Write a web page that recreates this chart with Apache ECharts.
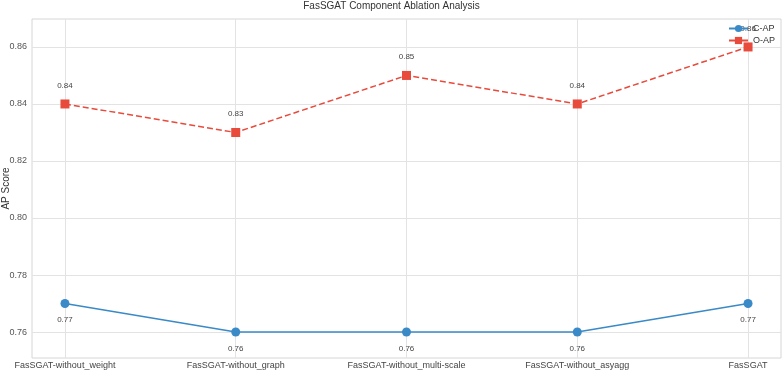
<!DOCTYPE html>
<html style="height: 100%">
<head>
    <meta charset="utf-8">
    <script type="text/javascript" src="https://cdn.jsdelivr.net/npm/echarts@6/dist/echarts.min.js"></script>
</head>
<body style="height: 100%; margin: 0">
<div id="container" style="height: 371px;width: 783px"></div>
<script type="text/javascript">
    var categories = ['FasSGAT-without_weight', 'FasSGAT-without_graph', 'FasSGAT-without_multi-scale', 'FasSGAT-without_asyagg', 'FasSGAT'];
    var cAP = [0.77, 0.76, 0.76, 0.76, 0.77];
    var oAP = [0.84, 0.83, 0.85, 0.84, 0.86];
    var yTicks = [0.76, 0.78, 0.80, 0.82, 0.84, 0.86];

    var dom = document.getElementById("container");
    var myChart = echarts.init(dom);
    var font = 'Liberation Sans';
    var idx = categories.map(function (c, i) { return i; });

    function pairs(values) {
        return values.map(function (v, i) { return [i, v]; });
    }

    var option = {
        animation: false,
        textStyle: {fontFamily: font},
        title: {
            text: 'FasSGAT Component Ablation Analysis',
            left: 'center',
            top: 1,
            padding: 0,
            textStyle: {fontSize: 10, fontWeight: 'normal', color: '#333', fontFamily: font}
        },
        legend: {
            orient: 'vertical',
            right: 3,
            top: 19,
            itemGap: 3,
            itemWidth: 19,
            itemHeight: 9,
            textStyle: {fontSize: 9, color: '#333'},
            data: ['C-AP', 'O-AP']
        },
        grid: {
            left: 32, right: 2, top: 19, bottom: 13,
            outerBoundsMode: 'none',
            show: true, borderColor: '#d6d6d6', borderWidth: 1
        },
        xAxis: {
            type: 'value',
            min: -0.193,
            max: 4.193,
            axisLine: {show: false},
            axisTick: {show: false, customValues: idx},
            splitLine: {show: true, lineStyle: {color: '#e3e3e3'}},
            axisLabel: {
                customValues: idx,
                fontSize: 9,
                color: '#444',
                margin: 3,
                formatter: function (v) { return categories[Math.round(v)]; }
            }
        },
        yAxis: {
            type: 'value',
            min: 0.7509,
            max: 0.8698,
            name: 'AP Score',
            nameLocation: 'middle',
            nameGap: 21,
            nameMoveOverlap: false,
            nameTextStyle: {fontSize: 10, color: '#333'},
            axisLine: {show: false},
            axisTick: {show: false, customValues: yTicks},
            splitLine: {show: true, lineStyle: {color: '#e3e3e3'}},
            axisLabel: {
                customValues: yTicks,
                fontSize: 9,
                color: '#555',
                margin: 5,
                formatter: function (v) { return v.toFixed(2); }
            }
        },
        series: [
            {
                name: 'C-AP',
                type: 'line',
                data: pairs(cAP),
                symbol: 'circle',
                symbolSize: 9,
                itemStyle: {color: '#3a8ac8'},
                lineStyle: {width: 1.5, color: '#3a8ac8'},
                label: {
                    show: true, position: 'bottom', distance: 8,
                    fontSize: 8, color: '#444',
                    formatter: function (p) { return p.value[1].toFixed(2); }
                }
            },
            {
                name: 'O-AP',
                type: 'line',
                data: pairs(oAP),
                symbol: 'rect',
                symbolSize: 9,
                itemStyle: {color: '#e84a3c'},
                lineStyle: {width: 1.5, type: 'dashed', color: '#e84a3c'},
                label: {
                    show: true, position: 'top', distance: 10,
                    fontSize: 8, color: '#444',
                    formatter: function (p) { return p.value[1].toFixed(2); }
                }
            }
        ]
    };
    myChart.setOption(option);
</script>
</body>
</html>
